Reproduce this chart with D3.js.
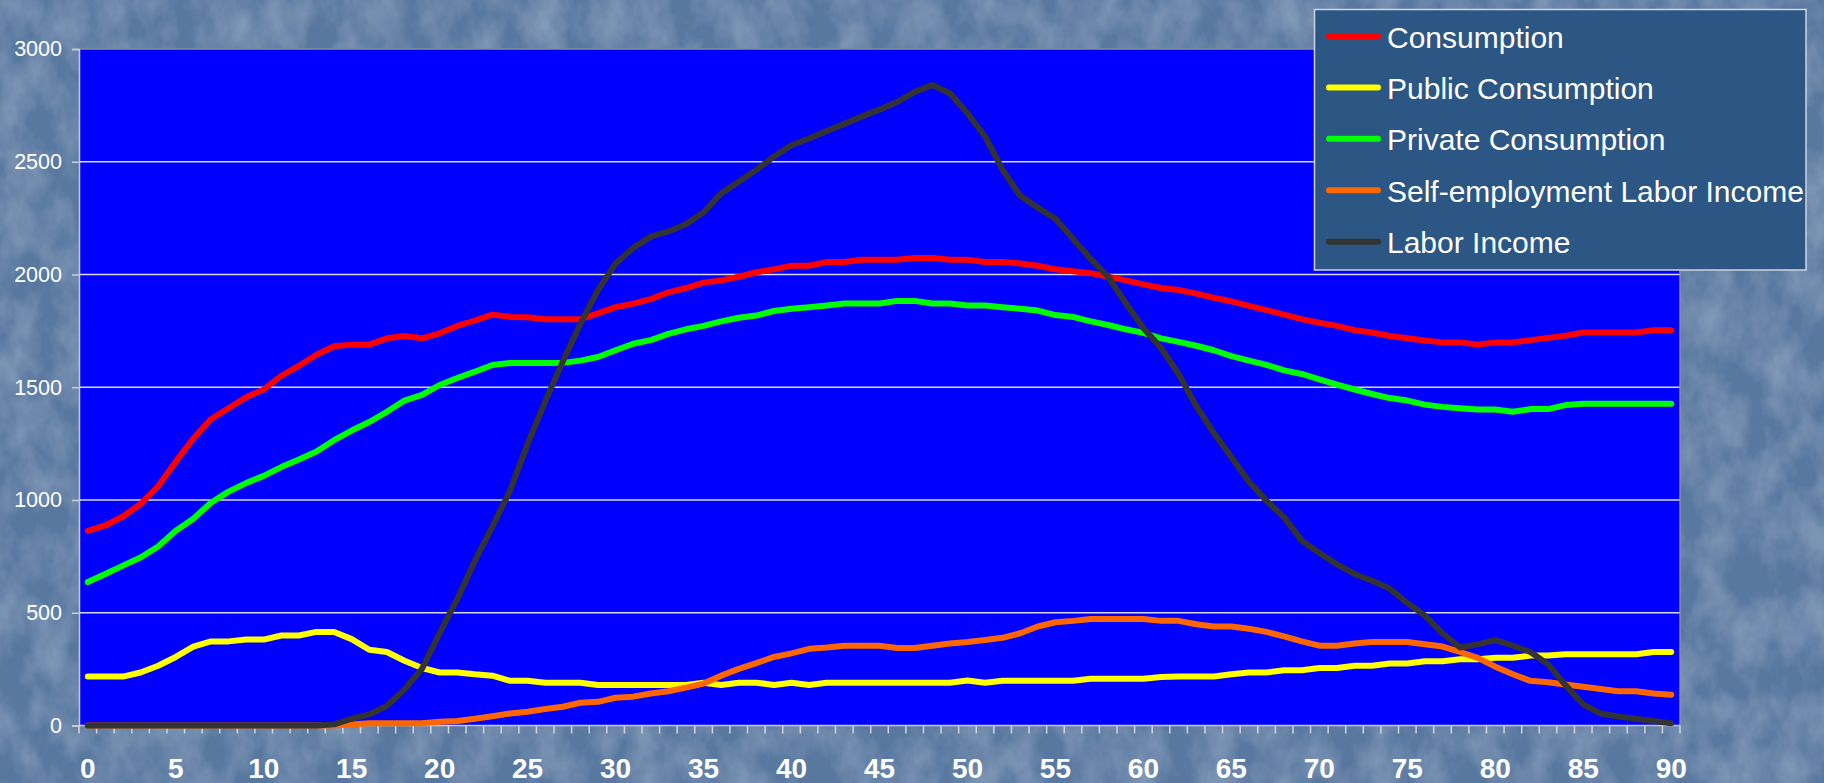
<!DOCTYPE html>
<html>
<head>
<meta charset="utf-8">
<script src="https://cdn.jsdelivr.net/npm/d3@7/dist/d3.min.js"></script>
<style>
  html, body { margin: 0; padding: 0; background: #5a7ba2; }
  svg { display: block; }
</style>
</head>
<body>
<svg id="chart" width="1824" height="783"></svg>
<script>
// ---- Data (ages 0..90) ----
const ages = d3.range(0, 91);

const seriesNames = [
  "Consumption",
  "Public Consumption",
  "Private Consumption",
  "Self-employment Labor Income",
  "Labor Income"
];

const seriesColors = ["#ff0000", "#ffff00", "#00ff00", "#ff6600", "#333333"];

const consumption = [
  863, 887, 927, 982, 1061, 1170, 1273, 1358, 1407, 1456,
  1490, 1551, 1595, 1644, 1682, 1689, 1689, 1717, 1727, 1717,
  1739, 1772, 1796, 1822, 1812, 1810, 1802, 1802, 1802, 1828,
  1855, 1871, 1891, 1921, 1940, 1964, 1974, 1990, 2010, 2023,
  2039, 2039, 2055, 2055, 2065, 2065, 2065, 2073, 2073, 2065,
  2065, 2055, 2055, 2049, 2039, 2023, 2014, 2006, 1990, 1974,
  1956, 1940, 1931, 1915, 1897, 1881, 1861, 1842, 1822, 1802,
  1786, 1772, 1753, 1743, 1727, 1717, 1707, 1699, 1699, 1689,
  1699, 1699, 1709, 1719, 1729, 1743, 1743, 1743, 1743, 1753,
  1753
];

const publicConsumption = [
  217, 217, 217, 235, 265, 304, 350, 373, 373, 381,
  381, 399, 399, 415, 415, 383, 336, 326, 287, 255,
  235, 235, 227, 221, 198, 198, 190, 190, 190, 180,
  180, 180, 180, 180, 180, 190, 180, 190, 190, 180,
  190, 180, 190, 190, 190, 190, 190, 190, 190, 190,
  200, 190, 198, 198, 198, 198, 198, 207, 207, 207,
  207, 215, 217, 217, 217, 227, 235, 235, 245, 245,
  255, 255, 265, 265, 275, 275, 285, 285, 294, 294,
  300, 300, 310, 310, 316, 316, 316, 316, 316, 326,
  326
];

const privateConsumption = [
  636, 672, 709, 745, 794, 864, 917, 988, 1037, 1075,
  1107, 1146, 1180, 1215, 1265, 1308, 1346, 1391, 1441, 1466,
  1510, 1541, 1569, 1599, 1608, 1608, 1608, 1608, 1618, 1634,
  1664, 1693, 1709, 1737, 1757, 1772, 1792, 1808, 1818, 1838,
  1848, 1855, 1863, 1871, 1871, 1871, 1883, 1883, 1871, 1871,
  1863, 1863, 1855, 1848, 1840, 1820, 1812, 1792, 1776, 1757,
  1741, 1717, 1701, 1684, 1664, 1638, 1618, 1599, 1575, 1559,
  1535, 1512, 1490, 1470, 1452, 1441, 1423, 1413, 1407, 1401,
  1401, 1391, 1403, 1403, 1421, 1427, 1427, 1427, 1427, 1427,
  1427
];

const selfEmploymentIncome = [
  0, 0, 0, 0, 0, 0, 0, 0, 0, 0,
  0, 0, 0, 0, 0, 5, 10, 10, 10, 10,
  17, 20, 30, 41, 53, 61, 73, 83, 101, 105,
  123, 128, 142, 152, 168, 186, 221, 251, 277, 304,
  320, 340, 346, 354, 354, 354, 344, 344, 354, 364,
  370, 379, 389, 409, 439, 458, 464, 472, 472, 472,
  472, 464, 464, 449, 439, 439, 429, 415, 395, 373,
  354, 354, 364, 370, 370, 370, 360, 350, 326, 300,
  261, 227, 198, 192, 182, 172, 162, 152, 152, 142,
  136
];

const laborIncome = [
  0, 0, 0, 0, 0, 0, 0, 0, 0, 0,
  0, 0, 0, 0, 5, 30, 49, 87, 160, 252,
  410, 560, 730, 883, 1041, 1249, 1437, 1614, 1782, 1931,
  2049, 2118, 2168, 2191, 2223, 2276, 2359, 2411, 2464, 2523,
  2573, 2603, 2636, 2668, 2701, 2731, 2765, 2810, 2840, 2804,
  2715, 2612, 2464, 2349, 2296, 2247, 2158, 2069, 1990, 1872,
  1763, 1674, 1559, 1417, 1298, 1190, 1081, 996, 923, 820,
  765, 715, 672, 642, 607, 543, 488, 409, 346, 360,
  379, 354, 326, 271, 178, 93, 53, 40, 30, 20,
  10
];

const yTicks = [0, 500, 1000, 1500, 2000, 2500, 3000];
const xLabelAges = d3.range(0, 91, 5);

const seriesValues = [consumption, publicConsumption, privateConsumption, selfEmploymentIncome, laborIncome];

// ---- Layout ----
const svg = d3.select("#chart");
const W = 1824, H = 783;
const plot = { left: 79, right: 1680, top: 49, bottom: 725.5 };

// Background with subtle mottled texture
const defs = svg.append("defs");
const tex = defs.append("filter").attr("id", "tex").attr("x", 0).attr("y", 0).attr("width", 1).attr("height", 1);
tex.append("feTurbulence").attr("type", "fractalNoise").attr("baseFrequency", "0.03 0.02").attr("numOctaves", 4).attr("seed", 7).attr("result", "n");
tex.append("feColorMatrix").attr("in", "n").attr("type", "matrix")
  .attr("values", "0 0 0 0 0.56  0 0 0 0 0.68  0 0 0 0 0.82  0.5 0 0 0 -0.17").attr("result", "m");
tex.append("feComposite").attr("in", "m").attr("in2", "SourceGraphic").attr("operator", "over");

svg.append("rect").attr("width", W).attr("height", H).attr("fill", "#5878a0").attr("filter", "url(#tex)");

const x = d3.scalePoint().domain(ages).range([plot.left, plot.right]).padding(0.5);
const y = d3.scaleLinear().domain([0, 3000]).range([plot.bottom, plot.top]);

// Plot area
svg.append("rect")
  .attr("x", plot.left).attr("y", plot.top)
  .attr("width", plot.right - plot.left).attr("height", plot.bottom - plot.top)
  .attr("fill", "#0000ff");

// Gridlines
svg.append("g").selectAll("line")
  .data(yTicks.filter(d => d > 0 && d < 3000))
  .join("line")
  .attr("x1", plot.left).attr("x2", plot.right)
  .attr("y1", d => y(d)).attr("y2", d => y(d))
  .attr("stroke", "#d8d8ff").attr("stroke-width", 1.5);

// Plot border top/right (gray)
svg.append("path")
  .attr("d", `M${plot.left},${plot.top}H${plot.right}V${plot.bottom}`)
  .attr("fill", "none").attr("stroke", "#8a8a9a").attr("stroke-width", 1.5);

// Y axis
const yAxis = d3.axisLeft(y).tickValues(yTicks).tickSize(7).tickPadding(10).tickFormat(d3.format("d"));
const gy = svg.append("g").attr("transform", `translate(${plot.left},0)`).call(yAxis);
gy.select(".domain").attr("stroke", "#c8ccd4").attr("stroke-width", 1.5);
gy.selectAll(".tick line").attr("stroke", "#c8ccd4").attr("stroke-width", 1.5);
gy.selectAll(".tick text")
  .attr("fill", "#ffffff")
  .style("font-family", "'Liberation Sans', Arial, sans-serif")
  .style("font-size", "21.5px");

// X axis: ticks at category boundaries
const step = x.step();
const boundaries = d3.range(0, ages.length + 1).map(i => plot.left + i * step);
const gx = svg.append("g");
gx.append("line")
  .attr("x1", plot.left).attr("x2", plot.right)
  .attr("y1", plot.bottom).attr("y2", plot.bottom)
  .attr("stroke", "#c8ccd4").attr("stroke-width", 1.5);
gx.selectAll("line.tk").data(boundaries).join("line").attr("class", "tk")
  .attr("x1", d => d).attr("x2", d => d)
  .attr("y1", plot.bottom).attr("y2", plot.bottom + 8)
  .attr("stroke", "#d0d4dc").attr("stroke-width", 1.5);
gx.selectAll("text").data(xLabelAges).join("text")
  .attr("x", d => x(d)).attr("y", 778)
  .attr("text-anchor", "middle")
  .attr("fill", "#ffffff")
  .style("font-family", "'Liberation Sans', Arial, sans-serif")
  .style("font-weight", "bold")
  .style("font-size", "28px")
  .text(d => d);

// Lines
const line = d3.line().x((d, i) => x(ages[i])).y(d => y(d));
svg.append("g").selectAll("path")
  .data(seriesValues)
  .join("path")
  .attr("d", d => line(d))
  .attr("fill", "none")
  .attr("stroke", (d, i) => seriesColors[i])
  .attr("stroke-width", 6)
  .attr("stroke-linejoin", "round")
  .attr("stroke-linecap", "round");

// Legend
const lg = svg.append("g");
lg.append("rect")
  .attr("x", 1314.5).attr("y", 9.5).attr("width", 491.5).attr("height", 260.5)
  .attr("fill", "#2c5683").attr("stroke", "#d0d4dc").attr("stroke-width", 1.5);
const legendY = d3.scaleLinear().domain([0, 4]).range([36, 241.7]);
const items = lg.selectAll("g.item").data(seriesNames).join("g").attr("class", "item")
  .attr("transform", (d, i) => `translate(0,${legendY(i)})`);
items.append("line")
  .attr("x1", 1329).attr("x2", 1378).attr("y1", 0).attr("y2", 0)
  .attr("stroke", (d, i) => seriesColors[i]).attr("stroke-width", 6).attr("stroke-linecap", "round");
items.append("text")
  .attr("x", 1387).attr("y", 11.5)
  .attr("fill", "#ffffff")
  .style("font-family", "'Liberation Sans', Arial, sans-serif")
  .style("font-size", "30px")
  .text(d => d);
</script>
</body>
</html>
